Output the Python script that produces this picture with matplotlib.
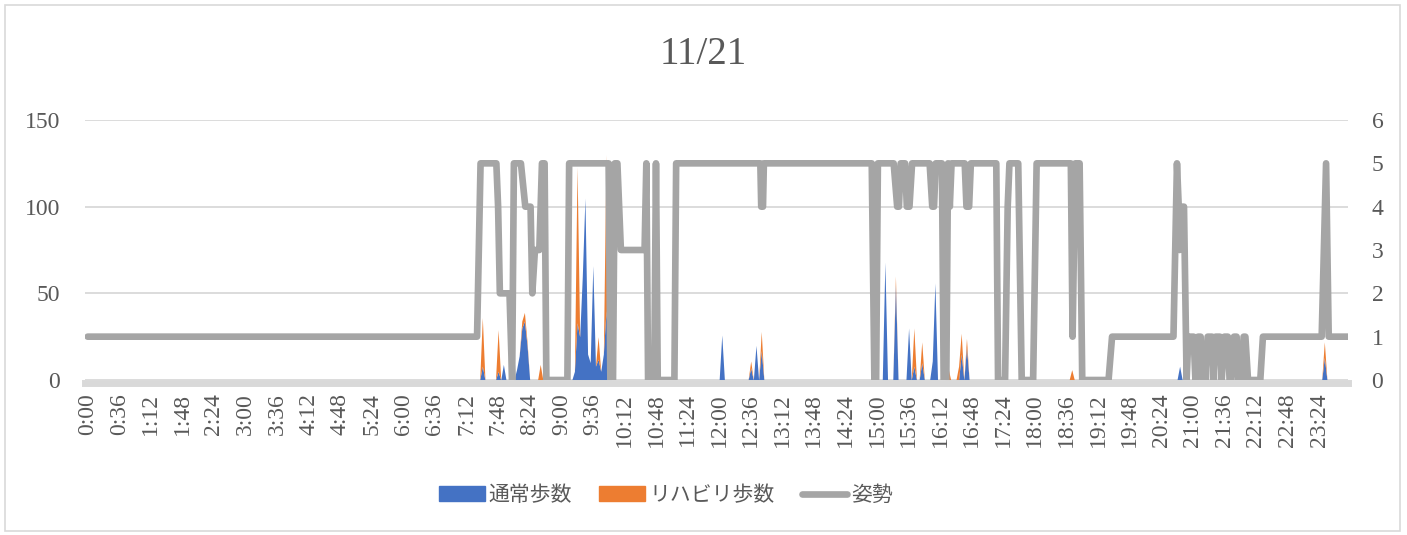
import matplotlib
matplotlib.use("Agg")
import matplotlib.pyplot as plt
from matplotlib.patches import Patch, Rectangle
from matplotlib.lines import Line2D
import numpy as np

TITLE = "11/21"
SERIES_NAMES = ["通常歩数", "リハビリ歩数", "姿勢"]

# step counts are logged every 3 minutes; slots not listed had no steps
STEP_INTERVAL = 3
STEP_TIMES = [
    "7:30", "7:48", "7:54", "8:09", "8:12", "8:15", "8:18", "8:21", "8:36",
    "9:15", "9:18", "9:21", "9:24", "9:27", "9:30", "9:33", "9:36", "9:39",
    "9:42", "9:45", "9:48", "9:51", "9:54",
    "12:03", "12:36", "12:42", "12:48",
    "15:09", "15:21", "15:36", "15:42", "15:51", "16:03", "16:06", "16:21",
    "16:33", "16:36", "16:42", "18:42", "20:45", "23:30",
]
NORMAL_STEPS = [
    8, 5, 9, 6, 14, 30, 34, 20, 0,
    5, 33, 25, 60, 105, 15, 10, 66, 8,
    12, 5, 15, 40, 10,
    26, 7, 20, 17,
    68, 55, 30, 8, 10, 11, 56, 0,
    0, 15, 19, 0, 8, 13,
]
REHAB_STEPS = [
    28, 24, 0, 0, 0, 4, 5, 2, 9,
    0, 90, 0, 0, 0, 0, 0, 0, 0,
    13, 0, 0, 90, 0,
    0, 4, 0, 11,
    0, 5, 0, 22, 12, 0, 0, 7,
    8, 12, 5, 6, 0, 9,
]

# posture level (right axis) at each change point
POSTURE_TIMES = [
    "0:00", "7:24", "7:28", "7:46", "7:48", "7:50", "8:01", "8:04", "8:06",
    "8:14", "8:19", "8:25", "8:27", "8:30", "8:35", "8:38", "8:41", "8:43",
    "9:07", "9:09", "9:54", "9:56", "9:59", "10:01", "10:04", "10:08",
    "10:35", "10:37", "10:39", "10:46", "10:48", "10:50", "11:09", "11:11",
    "12:47", "12:48", "12:50", "12:51", "14:54", "14:57", "14:59", "15:01",
    "15:19", "15:23", "15:25", "15:27", "15:32", "15:34", "15:37", "15:40",
    "16:00", "16:03", "16:05", "16:07", "16:14", "16:16", "16:19", "16:21",
    "16:23", "16:25", "16:40", "16:42", "16:45", "16:47", "17:16", "17:18",
    "17:26", "17:29", "17:31", "17:41", "17:45", "17:58", "18:02", "18:41",
    "18:43", "18:46", "18:51", "18:54", "19:24", "19:28", "20:38", "20:42",
    "20:44", "20:45", "20:47", "20:50", "20:53", "20:55", "21:01", "21:03",
    "21:06", "21:09", "21:11", "21:15", "21:17", "21:22", "21:24", "21:26",
    "21:31", "21:33", "21:36", "21:40", "21:42", "21:44", "21:47", "21:50",
    "21:52", "21:56", "21:58", "22:00", "22:03", "22:17", "22:20", "23:27",
    "23:32", "23:35", "23:57",
]
POSTURE_VALUES = [
    1, 1, 5, 5, 4, 2, 2, 0, 5,
    5, 4, 4, 2, 3, 3, 5, 5, 0,
    0, 5, 5, 0, 0, 5, 5, 3,
    3, 5, 0, 0, 5, 0, 0, 5,
    5, 4, 4, 5, 5, 0, 0, 5,
    5, 4, 4, 5, 5, 4, 4, 5,
    5, 4, 4, 5, 5, 0, 0, 5,
    4, 5, 5, 4, 4, 5, 5, 0,
    0, 4, 5, 5, 0, 0, 5, 5,
    1, 5, 5, 0, 0, 1, 1, 5,
    4, 3, 4, 4, 0, 1, 1, 0,
    1, 1, 0, 0, 1, 1, 0, 1,
    1, 0, 1, 1, 0, 0, 1, 1,
    0, 0, 1, 1, 0, 0, 1, 1,
    5, 1, 1,
]

TICK_LABELS = [
    "0:00", "0:36", "1:12", "1:48", "2:24", "3:00", "3:36", "4:12", "4:48",
    "5:24", "6:00", "6:36", "7:12", "7:48", "8:24", "9:00", "9:36", "10:12",
    "10:48", "11:24", "12:00", "12:36", "13:12", "13:48", "14:24", "15:00",
    "15:36", "16:12", "16:48", "17:24", "18:00", "18:36", "19:12", "19:48",
    "20:24", "21:00", "21:36", "22:12", "22:48", "23:24",
]
LEFT_TICKS = [0, 50, 100, 150]
RIGHT_TICKS = [0, 1, 2, 3, 4, 5, 6]

BLUE = "#4472c4"
ORANGE = "#ed7d31"
GRAY = "#a5a5a5"
TEXT = "#595959"
LIGHT = "#d9d9d9"


def to_min(t):
    h, m = t.split(":")
    return int(h) * 60 + int(m)


plt.rcParams["font.family"] = ["Liberation Serif", "Noto Sans CJK JP"]

W, H = 1407, 535
fig = plt.figure(figsize=(W / 100, H / 100), dpi=100)

# step slots for the whole day, zero where nothing was logged
slots = np.arange(0, 24 * 60, STEP_INTERVAL)
normal = np.zeros(len(slots))
rehab = np.zeros(len(slots))
for t, n, r in zip(STEP_TIMES, NORMAL_STEPS, REHAB_STEPS):
    i = to_min(t) // STEP_INTERVAL
    normal[i] = n
    rehab[i] = r

ax = fig.add_axes([85 / W, 1 - 380 / H, (1348 - 85) / W, 260 / H])
ax.fill_between(slots, 0, normal, color=BLUE, lw=0)
ax.fill_between(slots, normal, normal + rehab, color=ORANGE, lw=0)
ax.set_xlim(-3, 1437)
ax.set_ylim(0, 150)
ax.set_yticks(LEFT_TICKS)
ax.set_xticks([to_min(t) for t in TICK_LABELS])
ax.set_xticklabels(TICK_LABELS)
ax.yaxis.grid(True, color=LIGHT, lw=1.3)
ax.set_axisbelow(True)
for s in ("top", "left", "right"):
    ax.spines[s].set_visible(False)
ax.spines["bottom"].set_color(LIGHT)
ax.spines["bottom"].set_linewidth(5)
ax.spines["bottom"].set_position(("outward", 2.5))
ax.tick_params(axis="both", length=0, labelcolor=TEXT, labelsize=17)
ax.tick_params(axis="y", pad=18)
ax.tick_params(axis="x", pad=7, labelrotation=90)

ax2 = ax.twinx()
ax2.plot([to_min(t) for t in POSTURE_TIMES], POSTURE_VALUES, color=GRAY,
         lw=4.8, solid_joinstyle="round", solid_capstyle="round")
ax2.set_ylim(0, 6)
ax2.set_yticks(RIGHT_TICKS)
for s in ax2.spines.values():
    s.set_visible(False)
ax2.tick_params(axis="y", length=0, labelcolor=TEXT, labelsize=17, pad=17)

fig.text(703 / W, 1 - 54 / H, TITLE, ha="center", va="center",
         fontsize=28, color=TEXT)

handles = [
    Patch(color=BLUE),
    Patch(color=ORANGE),
    Line2D([], [], color=GRAY, lw=4.8, solid_capstyle="round"),
]
fig.legend(handles, SERIES_NAMES, loc="center", bbox_to_anchor=(666 / W, 1 - 496 / H),
           ncol=3, frameon=False, fontsize=15, labelcolor=TEXT,
           handlelength=2.2, handletextpad=0.2, columnspacing=1.3)

fig.patches.append(Rectangle((5 / W, 4 / H), (1400 - 5) / W, (530 - 4) / H,
                             transform=fig.transFigure, fill=False,
                             ec=LIGHT, lw=1.2))

fig.savefig("out.png", dpi=100)
